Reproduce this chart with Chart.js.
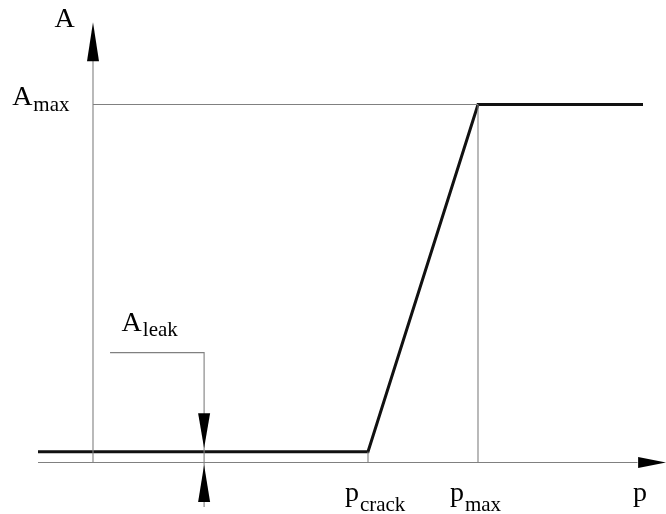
<!DOCTYPE html>
<html>
<head>
<meta charset="utf-8">
<script src="https://cdn.jsdelivr.net/npm/chart.js@4/dist/chart.umd.min.js"></script>
<style>
  html, body { margin: 0; padding: 0; background: #fff; }
  #wrap { width: 666px; height: 514px; position: relative; }
</style>
</head>
<body>
<div id="wrap"><canvas id="c"></canvas></div>
<script>
// ---- data (p in arbitrary units, A in arbitrary units) ----
const pCrack = 5;
const pMax = 7;
const aLeak = 0.3;
const aMax = 10;

// characteristic curve A(p)
const curveP = [-1, pCrack, pMax, 10];
const curveA = [aLeak, aLeak, aMax, aMax];

// axes extents
const xAxisP = [-1, 9.9];
const yAxisA = [0, 11.3];

// A_leak leader line (horizontal then vertical dimension line)
const leaderP = [0.31, 2.02, 2.02];
const leaderA = [3.07, 3.07, -1.24];

// arrow tips: [p, A]
const arrowTips = [
  { p: 0, a: 12.3, dir: 'up', len: 39, w: 12 },      // y axis
  { p: 10.42, a: 0, dir: 'right', len: 28, w: 11 },  // x axis
  { p: 2.02, a: 0.40, dir: 'down', len: 35, w: 12 }, // A_leak upper
  { p: 2.02, a: -0.07, dir: 'up', len: 37, w: 12 }   // A_leak lower
];

// labels: [text, subscript, p, A]
const labels = [
  { t: 'A', s: '', p: -0.70, a: 12.16, sub: 0 },
  { t: 'A', s: 'max', p: -1.47, a: 9.99, sub: 6 },
  { t: 'A', s: 'leak', p: 0.52, a: 3.67, sub: 5 },
  { t: 'p', s: 'crack', p: 4.58, a: -1.08, sub: 10 },
  { t: 'p', s: 'max', p: 6.49, a: -1.08, sub: 10 },
  { t: 'p', s: '', p: 9.82, a: -1.08, sub: 0 }
];

const toXY = (ps, as) => ps.map((p, i) => ({ x: p, y: as[i] }));

const thin = { borderColor: '#808080', borderWidth: 1.1, pointRadius: 0, showLine: true, fill: false, tension: 0, clip: false };

const datasets = [
  Object.assign({ data: toXY(xAxisP, [0, 0]) }, thin),
  Object.assign({ data: toXY([0, 0], yAxisA) }, thin),
  Object.assign({ data: toXY([0, pMax], [aMax, aMax]) }, thin),
  Object.assign({ data: toXY([pMax, pMax], [0, aMax]) }, thin),
  Object.assign({ data: toXY([pCrack, pCrack], [0, aLeak]) }, thin),
  Object.assign({ data: toXY(leaderP, leaderA) }, thin),
  { data: toXY(curveP, curveA), borderColor: '#111', borderWidth: 3, pointRadius: 0, showLine: true, fill: false, tension: 0, clip: false, borderJoinStyle: 'miter' }
];

const annotPlugin = {
  id: 'annot',
  afterDatasetsDraw(chart) {
    const ctx = chart.ctx;
    const xs = chart.scales.x, ys = chart.scales.y;
    ctx.save();
    ctx.fillStyle = '#000';
    arrowTips.forEach(ar => {
      const x = xs.getPixelForValue(ar.p), y = ys.getPixelForValue(ar.a);
      const h = ar.w / 2;
      ctx.beginPath();
      if (ar.dir === 'up') { ctx.moveTo(x, y); ctx.lineTo(x - h, y + ar.len); ctx.lineTo(x + h, y + ar.len); }
      else if (ar.dir === 'down') { ctx.moveTo(x, y); ctx.lineTo(x - h, y - ar.len); ctx.lineTo(x + h, y - ar.len); }
      else if (ar.dir === 'right') { ctx.moveTo(x, y); ctx.lineTo(x - ar.len, y - h); ctx.lineTo(x - ar.len, y + h); }
      ctx.closePath();
      ctx.fill();
    });
    ctx.textBaseline = 'alphabetic';
    ctx.textAlign = 'left';
    labels.forEach(l => {
      const x = xs.getPixelForValue(l.p), y = ys.getPixelForValue(l.a);
      ctx.font = '28px "Liberation Serif"';
      ctx.fillText(l.t, x, y);
      const w = ctx.measureText(l.t).width;
      if (l.s) {
        ctx.font = '21px "Liberation Serif"';
        ctx.fillText(l.s, x + w + 1, y + l.sub);
      }
    });
    ctx.restore();
  }
};

new Chart(document.getElementById('c'), {
  type: 'scatter',
  data: { datasets },
  options: {
    responsive: true,
    maintainAspectRatio: false,
    animation: false,
    layout: { padding: 0 },
    plugins: { legend: { display: false }, tooltip: { enabled: false } },
    scales: {
      x: { type: 'linear', display: false, min: -93 / 55, max: (666 - 93) / 55 },
      y: { type: 'linear', display: false, min: -(514 - 462.5) / 35.8, max: 462.5 / 35.8 }
    }
  },
  plugins: [annotPlugin]
});
</script>
</body>
</html>
